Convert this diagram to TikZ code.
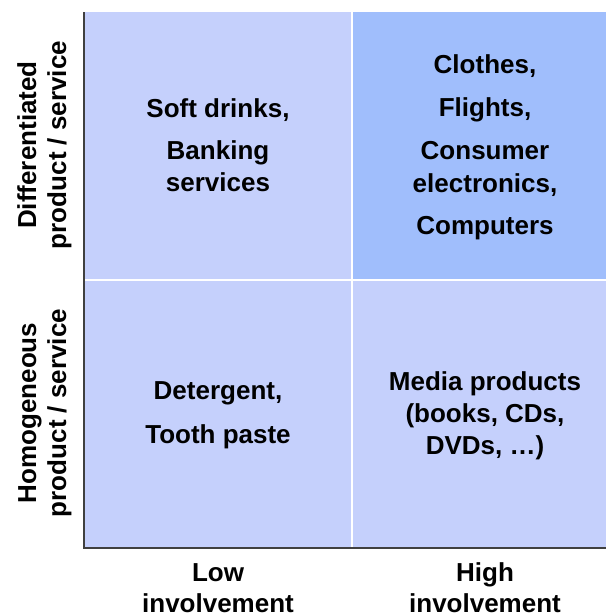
\documentclass[tikz,border=0pt]{standalone}
\usepackage{fontspec}
\setmainfont{Liberation Sans}
\definecolor{qlight}{RGB}{197,208,252}
\definecolor{qdark}{RGB}{160,190,252}
\definecolor{axisgray}{RGB}{64,64,64}
\begin{document}
\begin{tikzpicture}[x=1pt,y=-1pt,
  txt/.style={inner sep=0pt,anchor=base,font=\fontsize{26}{30}\selectfont\bfseries},
  vtxt/.style={txt,rotate=90}]
\useasboundingbox (0,0) rectangle (606,614);
% quadrants
\fill[qlight] (85,12) rectangle (351,279);
\fill[qdark]  (353,12) rectangle (606,279);
\fill[qlight] (85,281) rectangle (351,548);
\fill[qlight] (353,281) rectangle (606,548);
% axes
\coordinate (otop) at (84,12);
\coordinate (orig) at (84,548);
\coordinate (oright) at (606,548);
\draw[axisgray,line width=1.5pt] (otop) -- (orig) -- (oright);
% top left
\node[txt] (tl1) at (218,117) {Soft drinks,};
\node[txt] (tl2) at (218,159) {Banking};
\node[txt] (tl3) at (218,191) {services};
% top right
\node[txt] (tr1) at (485,73) {Clothes,};
\node[txt] (tr2) at (485,116) {Flights,};
\node[txt] (tr3) at (485,159) {Consumer};
\node[txt] (tr4) at (485,192) {electronics,};
\node[txt] (tr5) at (485,234) {Computers};
% bottom left
\node[txt] (bl1) at (218,399) {Detergent,};
\node[txt] (bl2) at (218,443) {Tooth paste};
% bottom right
\node[txt] (br1) at (485,390) {Media products};
\node[txt] (br2) at (485,422) {(books, CDs,};
\node[txt] (br3) at (485,454) {DVDs, …)};
% x labels
\node[txt] (xl1) at (218,581) {Low};
\node[txt] (xl2) at (218,612) {involvement};
\node[txt] (xh1) at (485,581) {High};
\node[txt] (xh2) at (485,612) {involvement};
% y labels
\node[vtxt] (yd1) at (36,145) {Differentiated};
\node[vtxt] (yd2) at (66,145) {product / service};
\node[vtxt] (yh1) at (36,413) {Homogeneous};
\node[vtxt] (yh2) at (66,413) {product / service};
\end{tikzpicture}
\end{document}
